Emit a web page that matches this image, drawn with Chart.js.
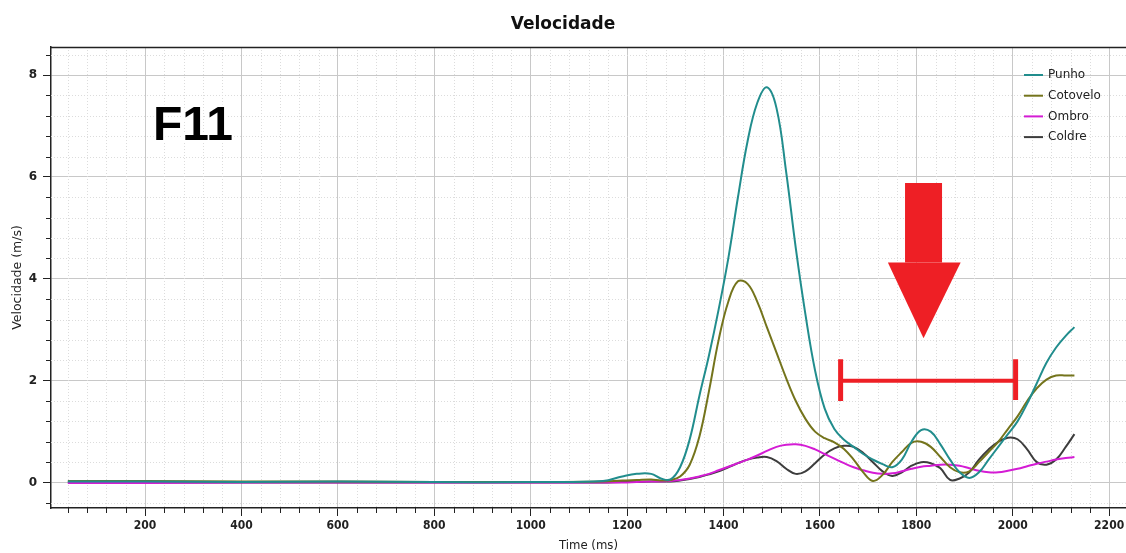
<!DOCTYPE html>
<html>
<head>
<meta charset="utf-8">
<script src="https://cdn.jsdelivr.net/npm/chart.js@4.4.1/dist/chart.umd.min.js"></script>
<style>
html, body { margin: 0; padding: 0; background: #fff; }
#wrap { width: 1126px; height: 553px; position: relative; }
</style>
</head>
<body>
<div id="wrap"><canvas id="chart" width="1126" height="553"></canvas></div>
<script>
// time axis (ms) shared by every series
var times = [40, 200, 400, 600, 800, 1000, 1150, 1190, 1220, 1250, 1270, 1290, 1310, 1330, 1350, 1370, 1390,
    1410, 1430, 1450, 1470, 1490, 1510, 1530, 1550, 1570, 1590, 1610, 1630, 1650, 1670, 1690, 1710,
    1730, 1750, 1770, 1790, 1810, 1830, 1850, 1870, 1890, 1910, 1930, 1950, 1970, 1990, 2010, 2030,
    2050, 2070, 2090, 2110, 2128];

var punho = [0.02, 0.02, 0.01, 0.02, 0.01, 0.01, 0.03, 0.12, 0.17, 0.17, 0.08, 0.06, 0.30, 0.85, 1.70, 2.50, 3.40,
    4.40, 5.60, 6.70, 7.45, 7.76, 7.35, 6.10, 4.60, 3.30, 2.20, 1.45, 1.05, 0.84, 0.70, 0.56, 0.45,
    0.36, 0.30, 0.45, 0.80, 1.03, 1.00, 0.75, 0.45, 0.20, 0.09, 0.20, 0.45, 0.70, 0.95, 1.20, 1.55,
    1.95, 2.35, 2.65, 2.88, 3.05];

var cotovelo = [0.03, 0.03, 0.02, 0.02, 0.01, 0.01, 0.02, 0.04, 0.05, 0.06, 0.04, 0.05, 0.12, 0.35, 0.90, 1.80, 2.80,
    3.55, 3.95, 3.90, 3.55, 3.05, 2.55, 2.05, 1.60, 1.25, 1.00, 0.87, 0.79, 0.66, 0.45, 0.20, 0.03,
    0.15, 0.40, 0.60, 0.78, 0.80, 0.70, 0.50, 0.30, 0.20, 0.22, 0.40, 0.60, 0.80, 1.05, 1.30, 1.60,
    1.85, 2.02, 2.10, 2.10, 2.10];

var ombro = [-0.01, -0.01, 0.00, 0.00, 0.00, 0.00, 0.00, 0.00, 0.01, 0.02, 0.02, 0.03, 0.05, 0.08, 0.12, 0.17, 0.24,
    0.31, 0.38, 0.45, 0.53, 0.62, 0.70, 0.74, 0.75, 0.72, 0.65, 0.56, 0.47, 0.38, 0.30, 0.24, 0.19,
    0.17, 0.18, 0.22, 0.27, 0.31, 0.33, 0.35, 0.35, 0.33, 0.28, 0.23, 0.20, 0.20, 0.23, 0.27, 0.32,
    0.37, 0.41, 0.45, 0.48, 0.50];

var coldre = [0.00, 0.00, 0.00, 0.00, 0.00, 0.00, 0.00, 0.01, 0.01, 0.02, 0.02, 0.02, 0.04, 0.07, 0.11, 0.16, 0.22,
    0.30, 0.38, 0.45, 0.49, 0.50, 0.42, 0.27, 0.17, 0.22, 0.38, 0.55, 0.67, 0.72, 0.70, 0.58, 0.40,
    0.22, 0.13, 0.20, 0.33, 0.40, 0.38, 0.28, 0.05, 0.08, 0.20, 0.45, 0.65, 0.80, 0.88, 0.85, 0.65,
    0.40, 0.35, 0.45, 0.70, 0.95];

var seriesNames = ['Punho', 'Cotovelo', 'Ombro', 'Coldre'];
var seriesColors = ['#218d8d', '#74741c', '#d41cd4', '#3d3d3d'];
var xTicks = [200, 400, 600, 800, 1000, 1200, 1400, 1600, 1800, 2000, 2200];
var yTicks = [0, 2, 4, 6, 8];

function pts(vals) {
    return times.map(function (t, i) { return { x: t, y: vals[i] }; });
}

var FONT = "'DejaVu Sans', sans-serif";
var FONT_C = "'DejaVu Sans Condensed', 'DejaVu Sans', sans-serif";

// minor grid, frame, legend and the annotations
var extras = {
    id: 'extras',
    beforeDatasetsDraw: function (chart) {
        var ctx = chart.ctx, a = chart.chartArea;
        var xs = chart.scales.x, ys = chart.scales.y;
        ctx.save();
        ctx.lineWidth = 1;
        ctx.strokeStyle = '#dcdcdc';
        ctx.setLineDash([1, 2]);
        for (var t = 40; t < 2235; t += 40) {
            if (t % 200 === 0) continue;
            var px = Math.round(xs.getPixelForValue(t)) + 0.5;
            ctx.beginPath(); ctx.moveTo(px, a.top); ctx.lineTo(px, a.bottom); ctx.stroke();
        }
        for (var k = -1; k <= 21; k++) {
            if (k % 5 === 0) continue;
            var py = Math.round(ys.getPixelForValue(k * 0.4)) + 0.5;
            ctx.beginPath(); ctx.moveTo(a.left, py); ctx.lineTo(a.right, py); ctx.stroke();
        }
        // minor tick marks
        ctx.setLineDash([]);
        ctx.strokeStyle = '#222';
        for (t = 40; t < 2235; t += 40) {
            if (t % 200 === 0) continue;
            px = Math.round(xs.getPixelForValue(t)) + 0.5;
            ctx.beginPath(); ctx.moveTo(px, a.bottom); ctx.lineTo(px, a.bottom + 5); ctx.stroke();
        }
        for (k = -1; k <= 21; k++) {
            if (k % 5 === 0) continue;
            py = Math.round(ys.getPixelForValue(k * 0.4)) + 0.5;
            ctx.beginPath(); ctx.moveTo(a.left - 5, py); ctx.lineTo(a.left, py); ctx.stroke();
        }
        ctx.restore();
    },
    afterDraw: function (chart) {
        var ctx = chart.ctx, a = chart.chartArea;
        var xs = chart.scales.x, ys = chart.scales.y;
        ctx.save();
        // top frame line
        ctx.strokeStyle = '#222';
        ctx.lineWidth = 1.5;
        ctx.beginPath(); ctx.moveTo(a.left, a.top + 0.5); ctx.lineTo(a.right, a.top + 0.5); ctx.stroke();

        // legend
        ctx.font = '12px ' + FONT;
        ctx.textBaseline = 'middle';
        ctx.textAlign = 'left';
        chart.data.datasets.forEach(function (ds, i) {
            var y = 75 + i * 20.7;
            ctx.strokeStyle = ds.borderColor;
            ctx.lineWidth = 2;
            ctx.beginPath(); ctx.moveTo(1024, y); ctx.lineTo(1043, y); ctx.stroke();
            ctx.fillStyle = '#222';
            ctx.fillText(ds.label, 1048, y);
        });

        // F11 label
        ctx.font = "bold 48px 'Liberation Sans', sans-serif";
        ctx.textBaseline = 'alphabetic';
        ctx.lineJoin = 'round';
        ctx.lineWidth = 5;
        ctx.strokeStyle = '#ffffff';
        ctx.strokeText('F11', 153, 140);
        ctx.fillStyle = '#000';
        ctx.fillText('F11', 153, 140);

        // red arrow
        var red = '#ee1f25';
        var cx = xs.getPixelForValue(1815);
        var sTop = ys.getPixelForValue(5.88), sBot = ys.getPixelForValue(4.32);
        var tip = ys.getPixelForValue(2.83);
        var hl = xs.getPixelForValue(1741), hr = xs.getPixelForValue(1892);
        ctx.fillStyle = red;
        ctx.fillRect(cx - 18.5, sTop, 37, sBot - sTop);
        ctx.beginPath();
        ctx.moveTo(hl, sBot); ctx.lineTo(hr, sBot); ctx.lineTo(cx, tip); ctx.closePath();
        ctx.fill();

        // red bracket
        var bl = xs.getPixelForValue(1643), br = xs.getPixelForValue(2006);
        var by = ys.getPixelForValue(2.0);
        ctx.strokeStyle = red;
        ctx.lineWidth = 4;
        ctx.lineCap = 'butt';
        ctx.beginPath(); ctx.moveTo(bl, by); ctx.lineTo(br, by); ctx.stroke();
        ctx.lineWidth = 5;
        ctx.beginPath();
        ctx.moveTo(bl, ys.getPixelForValue(2.42)); ctx.lineTo(bl, ys.getPixelForValue(1.6));
        ctx.moveTo(br, ys.getPixelForValue(2.42)); ctx.lineTo(br, ys.getPixelForValue(1.62));
        ctx.stroke();
        ctx.restore();
    }
};

var ctx = document.getElementById('chart').getContext('2d');
var chart = new Chart(ctx, {
    type: 'line',
    data: {
        datasets: seriesNames.map(function (name, i) {
            return {
                label: name,
                data: pts([punho, cotovelo, ombro, coldre][i]),
                borderColor: seriesColors[i],
                backgroundColor: seriesColors[i],
                borderWidth: 2,
                pointRadius: 0,
                tension: 0.4,
                fill: false
            };
        })
    },
    options: {
        responsive: false,
        animation: false,
        layout: { padding: { left: 0, right: 0, top: 0, bottom: 0 } },
        plugins: {
            legend: { display: false },
            tooltip: { enabled: false },
            title: {
                display: true,
                text: 'Velocidade',
                color: '#111',
                font: { family: FONT, size: 17, weight: 'bold' },
                padding: { top: 14, bottom: 12.6 }
            }
        },
        scales: {
            x: {
                type: 'linear',
                min: 5,
                max: 2235,
                afterBuildTicks: function (s) { s.ticks = xTicks.map(function (v) { return { value: v }; }); },
                afterFit: function (s) { s.height = 45; s.paddingRight = 0; },
                ticks: {
                    color: '#222',
                    font: { family: FONT_C, size: 12, weight: 'bold' },
                    padding: 3,
                    maxRotation: 0,
                    callback: function (v) { return String(v); }
                },
                grid: { color: '#c8c8c8', tickColor: '#222', tickLength: 8, lineWidth: 1 },
                border: { color: '#222', width: 1.5 },
                title: {
                    display: true,
                    text: 'Time (ms)',
                    color: '#222',
                    font: { family: FONT_C, size: 13 },
                    padding: { top: 0, bottom: 0 }
                }
            },
            y: {
                type: 'linear',
                min: -0.5,
                max: 8.55,
                afterBuildTicks: function (s) { s.ticks = yTicks.map(function (v) { return { value: v }; }); },
                afterFit: function (s) { s.width = 51; },
                ticks: {
                    color: '#222',
                    font: { family: FONT, size: 12, weight: 'bold' },
                    padding: 6,
                    callback: function (v) { return String(v); }
                },
                grid: { color: '#c8c8c8', tickColor: '#222', tickLength: 8, lineWidth: 1 },
                border: { color: '#222', width: 1.5 },
                title: {
                    display: true,
                    text: 'Velocidade (m/s)',
                    color: '#222',
                    font: { family: FONT, size: 12.5 },
                    padding: { top: 10, bottom: 2 }
                }
            }
        }
    },
    plugins: [extras]
});
</script>
</body>
</html>
